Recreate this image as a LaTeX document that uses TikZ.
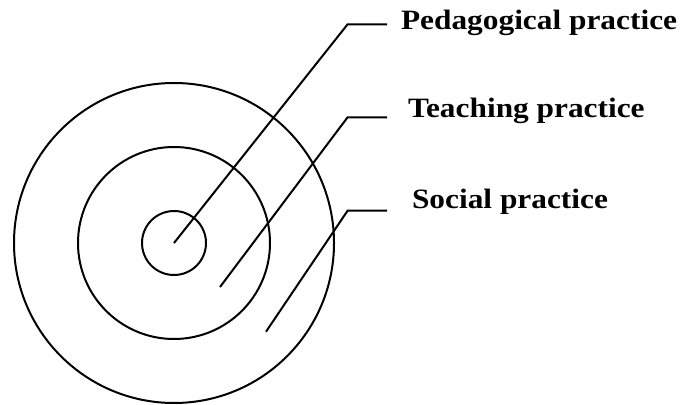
\documentclass[tikz,border=0pt]{standalone}
\usepackage{fontspec}
\setmainfont{Liberation Serif}[FakeStretch=1.12]
\begin{document}
\begin{tikzpicture}[x=0.5pt,y=-0.5pt,line width=1pt,
    ring/.style={circle,draw,inner sep=0pt},
    tag/.style={anchor=base west,inner sep=0pt,font=\fontsize{14}{16}\selectfont\bfseries} ]
    \useasboundingbox (0,0) rectangle (684,405);
    \node at (174,243) [ring,minimum size=160pt] (outer) {};
    \node at (174,243) [ring,minimum size=96pt] (middle) {};
    \node at (174,243) [ring,minimum size=32pt] (inner) {};
    \coordinate (ped) at (inner.center);
    \coordinate (ped bend) at (347.6,24.3);
    \coordinate (ped end) at (387,24.3);
    \coordinate (teach) at (220,287);
    \coordinate (teach bend) at (347.6,117.3);
    \coordinate (teach end) at (387,117.3);
    \coordinate (soc) at (266,331.7);
    \coordinate (soc bend) at (347.6,210.7);
    \coordinate (soc end) at (387,210.7);
    \draw (ped) -- (ped bend) -- (ped end);
    \draw (teach) -- (teach bend) -- (teach end);
    \draw (soc) -- (soc bend) -- (soc end);
    \node at (400,30) [tag] (ped label) {Pedagogical practice};
    \node at (407,117.3) [tag] (teach label) {Teaching practice};
    \node at (411,208.3) [tag] (soc label) {Social practice};
\end{tikzpicture}
\end{document}
